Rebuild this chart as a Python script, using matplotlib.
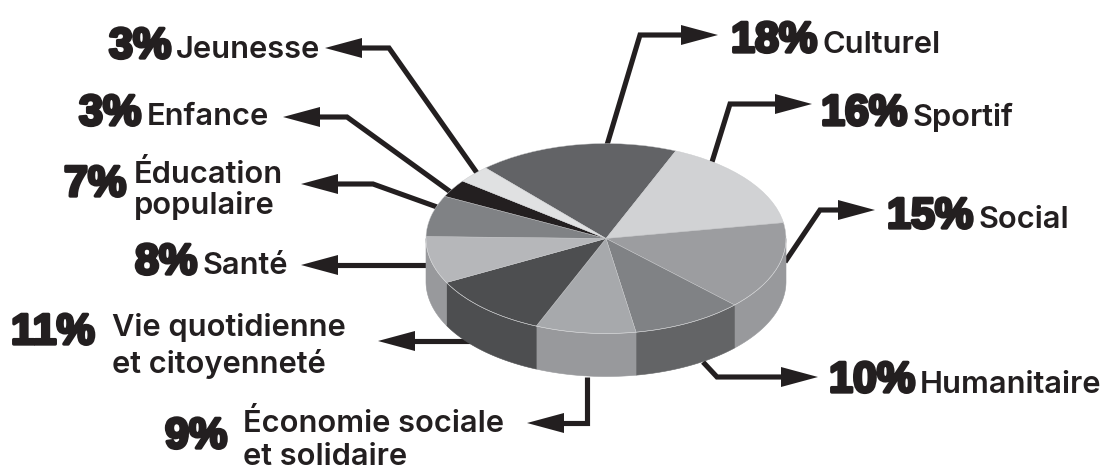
import numpy as np
import matplotlib
matplotlib.use("Agg")
import matplotlib.pyplot as plt
import matplotlib.patheffects as pe

categories = ["Culturel", "Sportif", "Social", "Humanitaire", "Économie sociale\net solidaire",
              "Vie quotidienne\net citoyenneté", "Santé", "Éducation\npopulaire", "Enfance", "Jeunesse"]
shares = [18, 16, 15, 10, 9, 11, 8, 7, 3, 3]
top_colors = ["#626366", "#d1d2d4", "#9c9da0", "#808285", "#a7a9ac",
              "#4d4e50", "#b6b7ba", "#808285", "#231f20", "#e0e1e2"]
wall_colors = ["#626366", "#d1d2d4", "#98999c", "#636466", "#98999c",
               "#4d4e50", "#98999c", "#808285", "#231f20", "#e0e1e2"]

W, H = 1104, 471
CX, CY, RX, RY, DEPTH = 606, 238.5, 180, 95, 43
START = -42  # clockwise from the top
INK = "#231f20"
FONT = "Inter"
PCT_FONT = ["Liberation Sans Narrow", "Liberation Sans"]

fig = plt.figure(figsize=(W / 100, H / 100), dpi=100)

# pie axes: one data unit = the pie radius, squashed by the axes limits
ax = fig.add_axes([0, 0, 1, 1])
ax.pie(shares, colors=top_colors, startangle=90 - START, counterclock=False, radius=1,
       wedgeprops=dict(linewidth=0.3, edgecolor="#c8c9cb", zorder=3))
ax.set_aspect("auto")
ax.set_xlim(-CX / RX, (W - CX) / RX)
ax.set_ylim((CY - H) / RY, CY / RY)
ax.axis("off")

# walls derived from the shares
d = DEPTH / RY
edges = START + np.cumsum([0] + shares) * 3.6
for i, col in enumerate(wall_colors):
    a0, a1 = max(edges[i], 90), min(edges[i + 1], 270)
    if a0 >= a1:
        continue
    t = np.radians(np.linspace(a0, a1, 80))
    xs = np.sin(t)
    ys = np.cos(t)
    ax.fill(np.r_[xs, xs[::-1]], np.r_[ys, ys[::-1] - d], color=col, lw=0.4, zorder=2)
    ax.plot(xs, ys, color="#e6e7e8", lw=0.4, alpha=0.7, zorder=4)

# overlay in pixel coordinates for leaders and text
ov = fig.add_axes([0, 0, 1, 1], facecolor="none", zorder=-1)
ov.set_xlim(0, W)
ov.set_ylim(H, 0)
ov.axis("off")
ax.set_zorder(1)
ax.patch.set_visible(False)

leaders = [
    [(607, 145), (640, 35), (690, 35), (718, 35)],
    [(712, 162), (730, 104), (785, 104), (812, 104)],
    [(785, 262), (820, 210), (850, 210), (875, 210)],
    [(703, 362), (717, 377), (790, 377), (818, 377)],
    [(587, 377), (587, 423), (550, 423), (527, 423)],
    [(470, 341), (400, 341), (378, 341)],
    [(426, 265), (320, 265), (301, 265)],
    [(437, 207), (373, 184), (320, 184), (301, 184)],
    [(452, 193), (347, 117), (300, 117), (283, 117)],
    [(477, 173), (389, 48), (340, 48), (325, 48)],
]
for pts in leaders:
    p = np.array(pts, float)
    ov.plot(p[:-1, 0], p[:-1, 1], color=INK, lw=3.7, solid_joinstyle="miter",
            solid_capstyle="butt", zorder=1)
    tip = p[-1]
    u = (p[-2] - tip) / np.linalg.norm(p[-2] - tip)
    n = np.array([-u[1], u[0]])
    base = tip + u * 37
    ov.fill(*np.array([tip, base + n * 10, base - n * 10]).T, color=INK, lw=0, zorder=2)

pct_labels = [
    ("18%", 731, 52), ("16%", 821, 125), ("15%", 887, 228), ("10%", 829, 392), ("9%", 165, 448),
    ("11%", 11, 344), ("8%", 135, 274), ("7%", 64, 196), ("3%", 79, 125), ("3%", 109, 58),
]
name_lines = [
    [("Culturel", 822, 53)],
    [("Sportif", 913, 126)],
    [("Social", 979, 228)],
    [("Humanitaire", 920, 393)],
    [("Économie sociale", 243, 432), ("et solidaire", 243, 465)],
    [("Vie quotidienne", 112, 336), ("et citoyenneté", 112, 373)],
    [("Santé", 203, 274)],
    [("Éducation", 134, 183), ("populaire", 134, 214)],
    [("Enfance", 147, 125)],
    [("Jeunesse", 176, 58)],
]
for (s, x, y), lines in zip(pct_labels, name_lines):
    ov.text(x, y, s, family=PCT_FONT, weight="bold", fontsize=31, color=INK, ha="left",
            va="baseline", zorder=5,
            path_effects=[pe.withStroke(linewidth=2.4, foreground=INK)])
    for txt, lx, ly in lines:
        ov.text(lx, ly, txt, family=FONT, weight=600, fontsize=22.2, color=INK,
                ha="left", va="baseline", zorder=5)

fig.savefig("out.png", dpi=100, facecolor="white")
